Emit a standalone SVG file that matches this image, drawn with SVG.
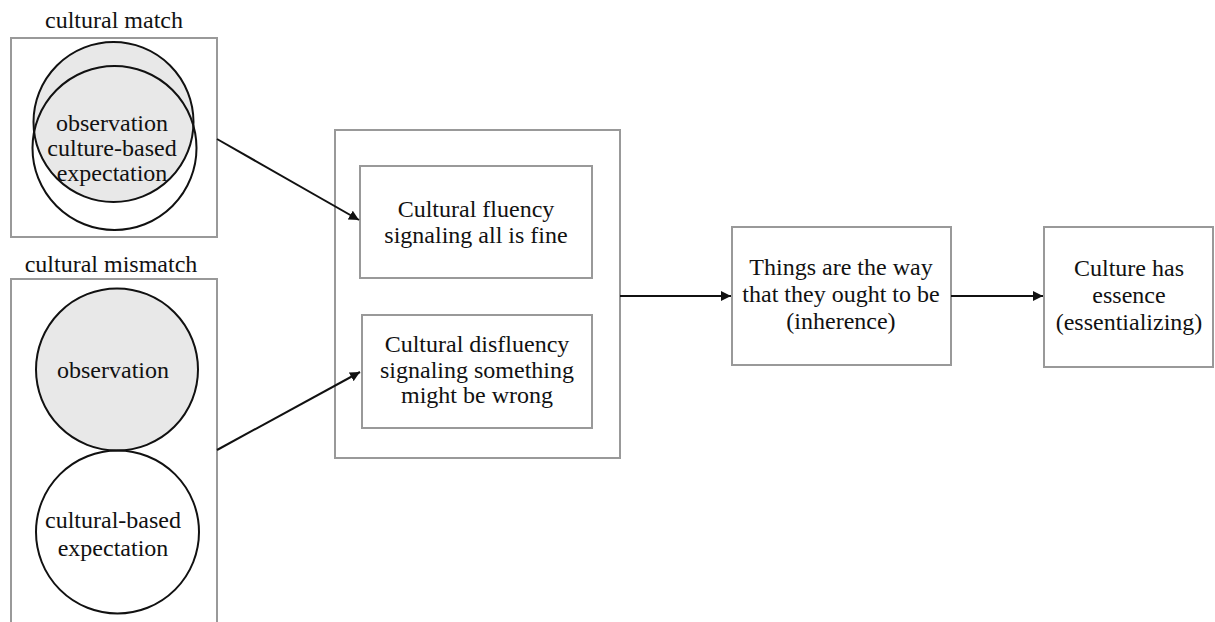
<svg xmlns="http://www.w3.org/2000/svg" width="1215" height="622" viewBox="0 0 1215 622">
<style>
.box{fill:#fff;stroke:#999;stroke-width:2}
.circ{stroke:#111;stroke-width:2}
.t{font-family:"Liberation Serif","Times New Roman",serif;font-size:24px;fill:#111;text-anchor:middle}
.c{fill:none;stroke:#111;stroke-width:2}
</style>
<defs>
<marker id="ah" viewBox="0 0 10 10" refX="10" refY="5" markerWidth="10" markerHeight="10" markerUnits="userSpaceOnUse" orient="auto">
<path d="M0,0 L10,5 L0,10 z" fill="#111"/>
</marker>
</defs>
<rect width="1215" height="622" fill="#fff"/>
<g id="match">
<text class="t" x="114" y="28">cultural match</text>
<rect class="box" x="11" y="38" width="206" height="199"/>
<circle class="circ" cx="113.5" cy="122" r="80" fill="#e8e8e8"/>
<circle class="circ" cx="114.5" cy="148" r="82" fill="none"/>
<text class="t" x="112" y="131">observation</text>
<text class="t" x="112" y="156">culture-based</text>
<text class="t" x="112" y="181">expectation</text>
</g>
<g id="mismatch">
<text class="t" x="111" y="272">cultural mismatch</text>
<rect class="box" x="11" y="279" width="206" height="360"/>
<circle class="circ" cx="117" cy="369.5" r="81" fill="#e8e8e8"/>
<circle class="circ" cx="117.5" cy="532" r="81.5" fill="none"/>
<text class="t" x="113" y="378">observation</text>
<text class="t" x="113" y="528">cultural-based</text>
<text class="t" x="113" y="556">expectation</text>
</g>
<g id="fluencyGroup">
<rect class="box" x="335" y="130" width="285" height="328"/>
</g>
<g id="fluency">
<rect class="box" x="360" y="166" width="232" height="112"/>
<text class="t" x="476" y="217">Cultural fluency</text>
<text class="t" x="476" y="243">signaling all is fine</text>
</g>
<g id="disfluency">
<rect class="box" x="362" y="315" width="230" height="113"/>
<text class="t" x="477" y="352">Cultural disfluency</text>
<text class="t" x="477" y="378">signaling something</text>
<text class="t" x="477" y="403">might be wrong</text>
</g>
<g id="inherence">
<rect class="box" x="732" y="227" width="219" height="138"/>
<text class="t" x="841" y="275">Things are the way</text>
<text class="t" x="841" y="302">that they ought to be</text>
<text class="t" x="841" y="329">(inherence)</text>
</g>
<g id="essence">
<rect class="box" x="1044" y="227" width="169" height="140"/>
<text class="t" x="1129" y="276">Culture has</text>
<text class="t" x="1129" y="303">essence</text>
<text class="t" x="1129" y="330">(essentializing)</text>
</g>
<g id="connectors">
<line class="c" x1="217" y1="139" x2="359" y2="220" marker-end="url(#ah)"/>
<line class="c" x1="217" y1="450" x2="360" y2="372" marker-end="url(#ah)"/>
<line class="c" x1="620" y1="296" x2="731" y2="296" marker-end="url(#ah)"/>
<line class="c" x1="951" y1="296" x2="1043" y2="296" marker-end="url(#ah)"/>
</g>
</svg>
